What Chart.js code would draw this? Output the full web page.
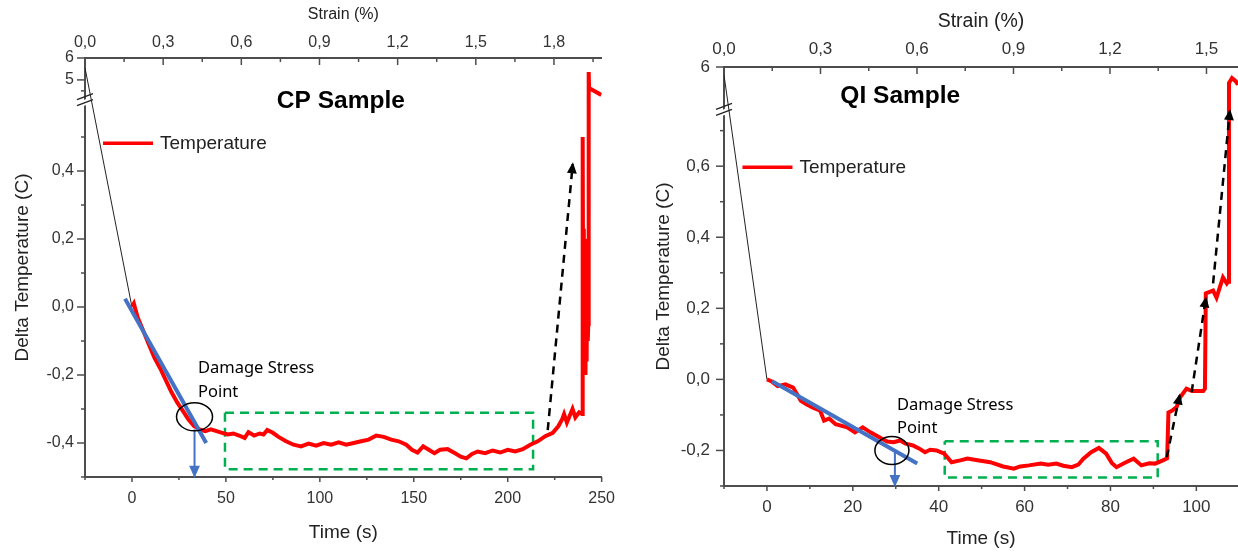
<!DOCTYPE html>
<html>
<head>
<meta charset="utf-8">
<script src="https://cdn.jsdelivr.net/npm/chart.js@4.4.0/dist/chart.umd.min.js"></script>
<style>
html, body { margin: 0; padding: 0; background: #fff; overflow: hidden; width: 1238px; height: 552px; }
#cp { position: absolute; left: 0; top: 0; }
#qi { position: absolute; left: 620px; top: 0; }
</style>
</head>
<body>
<canvas id="cp" width="627" height="552"></canvas>
<canvas id="qi" width="621" height="552"></canvas>
<script>
// ---------- CP sample ----------
const cpTime = [0, 1, 3, 6, 9, 12, 15, 18, 21, 24, 27, 30, 33, 36, 39, 42, 45, 48, 51, 54,
  57, 60, 62, 65, 68, 70, 72, 75, 78, 82, 86, 90, 94, 98, 102, 106, 110, 114, 118, 122,
  126, 130, 134, 138, 142, 146, 149, 152, 155, 158, 161, 164, 168, 172, 175, 178, 181, 184, 188, 192,
  196, 200, 204, 208, 212, 216, 220, 224, 227, 229, 230, 231.5, 233, 234.5, 236, 238, 239.6, 239.9, 240.2, 240.5,
  240.8, 241.1, 241.4, 241.7, 242, 242.3, 242.6, 242.9, 243.1, 243.3, 249.8];
const cpTemp = [0.0, 0.01, -0.03, -0.07, -0.11, -0.15, -0.18, -0.215, -0.25, -0.28, -0.305, -0.33, -0.35, -0.36, -0.365, -0.36, -0.365, -0.37, -0.375, -0.372,
  -0.378, -0.385, -0.368, -0.378, -0.372, -0.375, -0.362, -0.37, -0.382, -0.395, -0.405, -0.41, -0.402, -0.408, -0.4, -0.405, -0.398, -0.405, -0.4, -0.395,
  -0.39, -0.378, -0.382, -0.39, -0.395, -0.405, -0.42, -0.428, -0.41, -0.42, -0.43, -0.42, -0.418, -0.43, -0.44, -0.445, -0.432, -0.425, -0.43, -0.422,
  -0.428, -0.42, -0.425, -0.418, -0.405, -0.395, -0.38, -0.37, -0.35, -0.33, -0.315, -0.34, -0.32, -0.3, -0.325, -0.31, -0.315, 0.50, -0.15, 0.23,
  -0.12, 0.2, -0.2, 0.1, -0.16, 0.15, -0.1, -0.05, 5.36, 4.63, 4.31];
const cpLeadX = [-25, 0];
const cpLeadY = [5.55, 0.0];
const cpFitX = [-3.7, 39.5];
const cpFitY = [0.024, -0.40];
const cpDropX = [33.3, 33.3];
const cpDropY = [-0.36, -0.496];
const cpBoxX = [49.5, 213.5, 213.5, 49.5, 49.5];
const cpBoxY = [-0.311, -0.311, -0.477, -0.477, -0.311];
const cpRiseX = [221.3, 234.6];
const cpRiseY = [-0.362, 0.42];
const cpTimeMajor = [0, 50, 100, 150, 200, 250];
const cpTimeMinor = [-25, 25, 75, 125, 175, 225];
const cpStrainMajor = [0, 0.3, 0.6, 0.9, 1.2, 1.5, 1.8];
const cpStrainMinor = [0.15, 0.45, 0.75, 1.05, 1.35, 1.65, 1.95];
const cpTempMajor = [-0.4, -0.2, 0, 0.2, 0.4, 5, 6];
const cpTempMinor = [-0.5, -0.3, -0.1, 0.1, 0.3, 0.5, 4.5];

// ---------- QI sample ----------
const qiTime = [0, 1, 2.5, 4.3, 6.1, 7.9, 9.2, 10.6, 12.4, 13.3, 14.5, 16, 18.7, 20.5, 22.3, 24.1, 26.8, 28, 29.5, 31,
  32.3, 34, 35.5, 36.8, 38, 39.5, 41.3, 43, 45, 46.7, 49.4, 52, 55, 57.5, 59, 61, 63.8, 65.5, 67.4, 69,
  71, 72.5, 73.7, 75.5, 77.3, 79, 80.3, 81.4, 83.6, 85.4, 87.2, 89, 90.4, 92.2, 93.2, 93.5, 94.4, 95.4, 96.2, 97.7,
  99, 101.6, 102, 102.2, 103.9, 104.7, 106.2, 107.1, 107.4, 107.6, 108.3, 109.2, 109.7];
const qiTemp = [0.0, -0.005, -0.019, -0.014, -0.023, -0.06, -0.07, -0.079, -0.088, -0.116, -0.11, -0.126, -0.135, -0.149, -0.135, -0.149, -0.167, -0.175, -0.177, -0.172,
  -0.181, -0.186, -0.195, -0.205, -0.198, -0.2, -0.209, -0.233, -0.228, -0.223, -0.228, -0.233, -0.245, -0.251, -0.245, -0.242, -0.237, -0.24, -0.237, -0.243,
  -0.247, -0.24, -0.223, -0.205, -0.193, -0.209, -0.235, -0.247, -0.233, -0.223, -0.242, -0.236, -0.237, -0.228, -0.222, -0.093, -0.088, -0.078, -0.051, -0.026,
  -0.033, -0.033, -0.026, 0.242, 0.25, 0.23, 0.287, 0.27, 0.275, 5.62, 5.74, 5.66, 5.58];
const qiLeadX = [-10, 0];
const qiLeadY = [5.81, 0.0];
const qiFitX = [1.2, 35];
const qiFitY = [-0.005, -0.237];
const qiDropX = [29.8, 29.8];
const qiDropY = [-0.2, -0.297];
const qiBoxX = [41.4, 91, 91, 41.4, 41.4];
const qiBoxY = [-0.174, -0.174, -0.276, -0.276, -0.174];
const qiRise1X = [93.1, 96.1];
const qiRise1Y = [-0.219, -0.045];
const qiRise2X = [98.9, 102.2];
const qiRise2Y = [-0.036, 0.228];
const qiRise3X = [103.9, 107.8];
const qiRise3Y = [0.27, 0.755];
const qiTimeMajor = [0, 20, 40, 60, 80, 100];
const qiTimeMinor = [-10, 10, 30, 50, 70, 90];
const qiStrainMajor = [0, 0.3, 0.6, 0.9, 1.2, 1.5];
const qiStrainMinor = [0.15, 0.45, 0.75, 1.05, 1.35];
const qiTempMajor = [-0.2, 0, 0.2, 0.4, 0.6, 6];
const qiTempMinor = [-0.3, -0.1, 0.1, 0.3, 0.5, 0.7];

const AXIS = '#4d4d4d', TICK = '#333', RED = '#ff0000', BLUE = '#4472c4', GREEN = '#00b050';
const SANS = "'Liberation Sans', Arial, sans-serif";
const NOTE = "'Noto Sans', 'Open Sans', sans-serif";
Chart.defaults.font.family = SANS;

// y axis with a gap between two linear pieces
class BrokenScale extends Chart.LinearScale {
  static id = 'broken';
  static defaults = {};
  splitPixel() {
    return this.bottom - (this.bottom - this.top) * (1 - this.options.brk.frac);
  }
  getPixelForValue(v) {
    const b = this.options.brk, split = this.splitPixel();
    if (v <= b.low) return this.bottom - (v - this.min) / (b.low - this.min) * (this.bottom - split);
    if (v >= b.high) return split - (v - b.high) / (this.max - b.high) * (split - this.top);
    return split;
  }
  getValueForPixel(p) {
    const b = this.options.brk, split = this.splitPixel();
    if (p >= split) return this.min + (this.bottom - p) / (this.bottom - split) * (b.low - this.min);
    return b.high + (split - p) / (split - this.top) * (this.max - b.high);
  }
}
Chart.register(BrokenScale);

const pts = (xs, ys) => xs.map((x, i) => ({ x, y: ys[i] }));
const tickSet = (major, minor) => major.map(v => ({ value: v, lab: true }))
  .concat(minor.map(v => ({ value: v, lab: false })))
  .sort((a, b) => a.value - b.value);
const comma = v => v.toFixed(1).replace('.', ',');

// tick marks, axis break, arrow heads, notes
const decor = {
  id: 'decor',
  beforeDatasetsDraw(chart, args, o) {
    const ctx = chart.ctx;
    ctx.save();
    ctx.strokeStyle = AXIS;
    ctx.lineWidth = 1.5;
    Object.values(chart.scales).forEach(s => {
      const t = o.marks[s.id];
      if (!t) return;
      s.ticks.forEach((tk, i) => {
        const p = s.getPixelForTick(i);
        const len = tk.lab ? t.major : t.minor;
        ctx.beginPath();
        if (s.isHorizontal()) {
          const y0 = s.position === 'top' ? s.bottom : s.top;
          ctx.moveTo(p, y0);
          ctx.lineTo(p, y0 + t.dir * len);
        } else {
          ctx.moveTo(s.right, p);
          ctx.lineTo(s.right + t.dir * len, p);
        }
        ctx.stroke();
      });
    });
    // break on the y axis
    const ys = chart.scales.y, bx = ys.right, by = ys.splitPixel();
    ctx.fillStyle = '#fff';
    ctx.beginPath();
    ctx.moveTo(bx - 8, by + 3); ctx.lineTo(bx + 8, by - 3);
    ctx.lineTo(bx + 8, by + 3); ctx.lineTo(bx - 8, by + 9);
    ctx.closePath();
    ctx.fill();
    ctx.strokeStyle = '#222';
    ctx.lineWidth = 1.3;
    [-3, 3].forEach(d => {
      ctx.beginPath();
      ctx.moveTo(bx - 8, by + 3 + d); ctx.lineTo(bx + 8, by - 3 + d);
      ctx.stroke();
    });
    ctx.restore();
  },
  afterDatasetsDraw(chart, args, o) {
    const { ctx, scales: { x, y } } = chart;
    ctx.save();
    chart.data.datasets.forEach((ds, i) => {
      if (!ds.arrow) return;
      const el = chart.getDatasetMeta(i).data;
      const a = el[el.length - 2], b = el[el.length - 1];
      const ang = Math.atan2(b.y - a.y, b.x - a.x);
      const ux = Math.cos(ang), uy = Math.sin(ang);
      const L = ds.arrow, W = ds.arrow * 0.45;
      const tx = b.x + ux * 2, ty = b.y + uy * 2;
      ctx.fillStyle = ds.borderColor;
      ctx.beginPath();
      ctx.moveTo(tx, ty);
      ctx.lineTo(tx - ux * L - uy * W, ty - uy * L + ux * W);
      ctx.lineTo(tx - ux * L + uy * W, ty - uy * L - ux * W);
      ctx.closePath();
      ctx.fill();
    });
    // circle round the damage point
    const c = o.circle;
    ctx.strokeStyle = '#000';
    ctx.lineWidth = 1.5;
    ctx.beginPath();
    ctx.ellipse(x.getPixelForValue(c.x), y.getPixelForValue(c.y), c.rx, c.ry, 0, 0, Math.PI * 2);
    ctx.stroke();
    // legend
    const ds = chart.data.datasets.find(d => d.legend);
    const lx = x.getPixelForValue(o.legend.x), ly = y.getPixelForValue(o.legend.y);
    ctx.strokeStyle = ds.borderColor;
    ctx.lineWidth = 3.5;
    ctx.beginPath();
    ctx.moveTo(lx, ly); ctx.lineTo(lx + 50, ly);
    ctx.stroke();
    ctx.fillStyle = '#222';
    ctx.textBaseline = 'middle';
    ctx.font = '19px ' + SANS;
    ctx.fillText(ds.label, lx + 57, ly + 1);
    // notes
    o.notes.forEach(n => {
      ctx.font = n.font;
      ctx.fillStyle = '#000';
      ctx.fillText(n.text, x.getPixelForValue(n.x), y.getPixelForValue(n.y));
    });
    ctx.restore();
  }
};

function line(data, color, width, extra) {
  return Object.assign({ data, borderColor: color, backgroundColor: color, borderWidth: width,
    showLine: true, pointRadius: 0, fill: false, tension: 0 }, extra);
}

function buildChart(id, c) {
  return new Chart(document.getElementById(id), {
    type: 'scatter',
    data: {
      datasets: [
        line(pts(c.fitX, c.fitY), BLUE, 4),
        line(pts(c.dropX, c.dropY), BLUE, 2, { arrow: 12 }),
        ...c.rises.map(r => line(pts(r[0], r[1]), '#000', 2.5, { borderDash: [8, 6], arrow: 11 })),
        line(pts(c.time, c.temp), RED, 4, { label: 'Temperature', legend: true }),
        line(pts(c.boxX, c.boxY), GREEN, 2.5, { borderDash: [9, 6] }),
        line(pts(c.leadX, c.leadY), '#222', 1)
      ]
    },
    options: {
      responsive: false,
      animation: false,
      layout: { padding: { left: 0, right: c.padRight, top: 0, bottom: 0 } },
      plugins: {
        legend: { display: false },
        tooltip: { enabled: false },
        decor: {
          marks: {
            x: { dir: 1, major: 5, minor: 3 },
            x2: { dir: 1, major: 7, minor: 4 },
            y: { dir: -1, major: 8, minor: 4 }
          },
          circle: c.circle,
          legend: c.legend,
          notes: c.notes
        }
      },
      scales: {
        x: {
          type: 'linear', position: 'bottom', min: c.xMin, max: c.xMax,
          afterBuildTicks: s => { s.ticks = tickSet(c.xMajor, c.xMinor); },
          afterFit: s => { s.height = c.bottomH; },
          ticks: { autoSkip: false, maxRotation: 0, padding: c.xPad, color: TICK, font: { size: c.tickSize },
            callback: (v, i, t) => t[i].lab ? String(v) : '' },
          grid: { display: false, drawTicks: false },
          border: { color: AXIS, width: 2 },
          title: { display: true, text: 'Time (s)', color: '#222', font: { size: 19 }, padding: c.xTitlePad }
        },
        x2: {
          type: 'linear', position: 'top', min: 0, max: c.strainMax,
          afterBuildTicks: s => { s.ticks = tickSet(c.sMajor, c.sMinor); },
          afterFit: s => { s.height = c.topH; },
          ticks: { autoSkip: false, maxRotation: 0, padding: c.sPad, color: TICK, font: { size: c.tickSize },
            callback: (v, i, t) => t[i].lab ? comma(v) : '' },
          grid: { display: false, drawTicks: false },
          border: { color: AXIS, width: 2 },
          title: { display: true, text: 'Strain (%)', color: '#222', font: { size: c.strainTitleSize }, padding: c.sTitlePad }
        },
        y: {
          type: 'broken', min: c.yMin, max: c.yMax, brk: c.brk,
          afterBuildTicks: s => { s.ticks = tickSet(c.yMajor, c.yMinor); },
          afterFit: s => { s.width = c.leftW; },
          ticks: { autoSkip: false, padding: c.yPad, color: TICK, font: { size: c.tickSize },
            callback: (v, i, t) => !t[i].lab ? '' : (Math.abs(v) >= 1 ? String(v) : comma(v)) },
          grid: { display: false, drawTicks: false },
          border: { color: AXIS, width: 2 },
          title: { display: true, text: 'Delta Temperature (C)', color: '#222', font: { size: 19 }, padding: c.yTitlePad }
        }
      }
    },
    plugins: [decor]
  });
}

buildChart('cp', {
  time: cpTime, temp: cpTemp, leadX: cpLeadX, leadY: cpLeadY, fitX: cpFitX, fitY: cpFitY,
  dropX: cpDropX, dropY: cpDropY, boxX: cpBoxX, boxY: cpBoxY, rises: [[cpRiseX, cpRiseY]],
  xMin: -25, xMax: 250, xMajor: cpTimeMajor, xMinor: cpTimeMinor,
  strainMax: 1.983, sMajor: cpStrainMajor, sMinor: cpStrainMinor,
  yMin: -0.5, yMax: 6, yMajor: cpTempMajor, yMinor: cpTempMinor,
  brk: { low: 0.61, high: 4.1, frac: 0.0993 },
  padRight: 18, leftW: 85, topH: 58, bottomH: 75,
  tickSize: 16, xPad: 12, sPad: 6, yPad: 11, xTitlePad: 8, sTitlePad: 5, yTitlePad: 11, strainTitleSize: 16,
  circle: { x: 33.3, y: -0.323, rx: 18, ry: 14 },
  legend: { x: -15.4, y: 0.482 },
  notes: [
    { text: 'CP Sample', x: 77.1, y: 0.606, font: 'bold 24.5px ' + SANS },
    { text: 'Damage Stress', x: 35.1, y: -0.18, font: '16.5px ' + NOTE },
    { text: 'Point', x: 35.1, y: -0.25, font: '16.5px ' + NOTE }
  ]
});

buildChart('qi', {
  time: qiTime, temp: qiTemp, leadX: qiLeadX, leadY: qiLeadY, fitX: qiFitX, fitY: qiFitY,
  dropX: qiDropX, dropY: qiDropY, boxX: qiBoxX, boxY: qiBoxY,
  rises: [[qiRise1X, qiRise1Y], [qiRise2X, qiRise2Y], [qiRise3X, qiRise3Y]],
  xMin: -10, xMax: 109.7, xMajor: qiTimeMajor, xMinor: qiTimeMinor,
  strainMax: 1.598, sMajor: qiStrainMajor, sMinor: qiStrainMinor,
  yMin: -0.3, yMax: 6, yMajor: qiTempMajor, yMinor: qiTempMinor,
  brk: { low: 0.76, high: 5.0, frac: 0.101 },
  padRight: 3, leftW: 104, topH: 67, bottomH: 66,
  tickSize: 17, xPad: 11, sPad: 7, yPad: 14, xTitlePad: 2, sTitlePad: 10, yTitlePad: 32, strainTitleSize: 19.5,
  circle: { x: 29.1, y: -0.2, rx: 17, ry: 14 },
  legend: { x: -5.7, y: 0.597 },
  notes: [
    { text: 'QI Sample', x: 17.1, y: 5.3, font: 'bold 24.5px ' + SANS },
    { text: 'Damage Stress', x: 30.3, y: -0.073, font: '16.5px ' + NOTE },
    { text: 'Point', x: 30.3, y: -0.138, font: '16.5px ' + NOTE }
  ]
});
</script>
</body>
</html>
